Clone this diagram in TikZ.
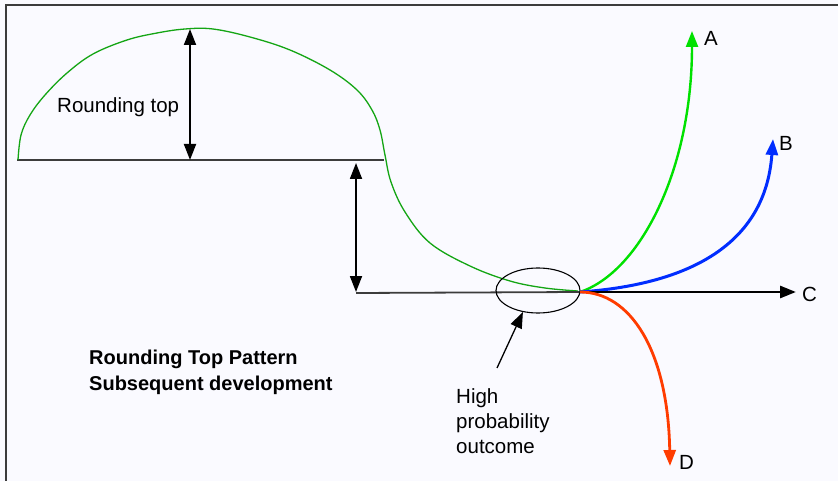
\documentclass[tikz,border=0pt]{standalone}
\usepackage{fontspec}
\setmainfont{Liberation Sans}
\usetikzlibrary{arrows.meta,shapes.geometric}
\definecolor{archgreen}{RGB}{20,165,20}
\definecolor{brightgreen}{RGB}{0,225,0}
\definecolor{pathblue}{RGB}{0,45,255}
\definecolor{pathred}{RGB}{255,60,0}
\definecolor{framegray}{RGB}{60,60,60}
\tikzset{
  tip/.style={-{Triangle[length=16pt,width=12pt]}},
  dbl/.style={{Triangle[length=16pt,width=12pt]}-{Triangle[length=16pt,width=12pt]}, line width=1.8pt, black},
  baseline/.style={line width=1.8pt, framegray},
  lbl/.style={font=\fontsize{20.5}{25}\selectfont, inner sep=0pt},
}
\begin{document}
\begin{tikzpicture}[x=1pt,y=-1pt]
\useasboundingbox (0,0) rectangle (838,481);
\fill[white!98!blue] (0,0) rectangle (838,481);
% frame
\draw[line width=2.5pt, framegray] (6,481) -- (6,5) -- (838,5);
% upper baseline and arch
\coordinate (b1) at (17,160);
\coordinate (b2) at (384,160);
\draw[baseline] (b1) -- (b2);
\draw[archgreen, line width=1.3pt] plot[smooth, tension=0.6] coordinates {
 (18,160) (21,135) (30,115) (45,95) (67,73) (93,54) (127,40) (157,33)
 (185,29) (213,29) (250,37) (290,50) (330,70) (357,90) (372,110) (380,130)
 (385,155) (391,182) (405,212) (430,243) (470,266) (510,281) (545,288) (578,291)};
% double arrows
\coordinate (t1) at (190,29);
\coordinate (t2) at (190,160);
\draw[dbl] (t1) -- (t2);
\coordinate (u1) at (356,163);
\coordinate (u2) at (356,292);
\draw[dbl] (u1) -- (u2);
% lower baseline
\coordinate (O) at (580,292);
\draw[baseline] (356,293) -- (O);
% ellipse
\node[draw, ellipse, line width=1.1pt, minimum width=84pt, minimum height=45pt, inner sep=0pt] (ell) at (538,290.5) {};
% outcome paths
\coordinate (Aend) at (692,31);
\coordinate (Bend) at (773,139);
\coordinate (Cend) at (796,292);
\coordinate (Dend) at (670,466);
\draw[tip, brightgreen, line width=2.4pt] (O) .. controls (640,272) and (692,170) .. (Aend);
\draw[tip, pathblue, line width=3pt] (O) .. controls (680,285) and (765,250) .. (Bend);
\draw[tip, black, line width=2.8pt] (O) -- (Cend);
\draw[tip, pathred, line width=2.8pt] (O) .. controls (630,292) and (668,350) .. (Dend);
% labels
\node[lbl, anchor=west] (la) at (704,38) {A};
\node[lbl, anchor=west] (lb) at (779,143) {B};
\node[lbl, anchor=west] (lc) at (802,294) {C};
\node[lbl, anchor=west] (ld) at (679,462) {D};
\node[lbl, anchor=west] (rt) at (57,107) {Rounding top};
\node[lbl, anchor=north west, align=left, font=\fontsize{20}{26}\selectfont\bfseries] (title) at (89,350) {Rounding Top Pattern\\Subsequent development};
\node[lbl, anchor=north west, align=left, font=\fontsize{20.5}{25}\selectfont] (hpo) at (456,388) {High\\probability\\outcome};
\coordinate (pstart) at (497,368);
\draw[tip, black, line width=1.3pt] (pstart) -- (ell.235);
\end{tikzpicture}
\end{document}
